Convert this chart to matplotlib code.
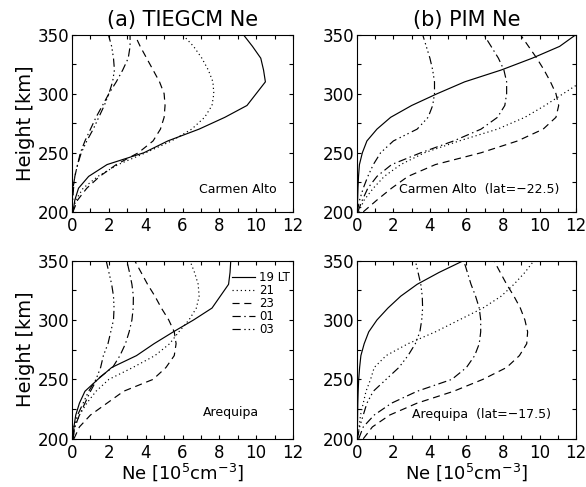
import numpy as np
import matplotlib
matplotlib.use("Agg")
import matplotlib.pyplot as plt
from matplotlib.ticker import MultipleLocator

plt.rcParams['font.family'] = ['DejaVu Sans']
plt.rcParams['mathtext.default'] = 'regular'

# height grid [km]
height = [200, 210, 220, 230, 240, 250, 260, 270, 280, 290, 300, 310, 320, 330, 340, 350]
lt_labels = ["19 LT", "21", "23", "01", "03"]

# (a) TIEGCM, Carmen Alto  (Ne in 1e5 cm^-3)
tie_ca_19 = [0.05, 0.15, 0.35, 0.9, 1.9, 3.9, 5.2, 6.9, 8.3, 9.5, 10.0, 10.5, 10.4, 10.25, 9.8, 9.3]
tie_ca_21 = [0.05, 0.2, 0.6, 1.4, 2.5, 4.0, 5.4, 6.5, 7.2, 7.6, 7.7, 7.65, 7.4, 7.05, 6.6, 6.0]
tie_ca_23 = [0.05, 0.3, 0.8, 1.5, 2.4, 3.6, 4.4, 4.8, 5.0, 5.05, 5.0, 4.75, 4.4, 4.05, 3.7, 3.4]
tie_ca_01 = [0.0, 0.03, 0.08, 0.15, 0.3, 0.45, 0.7, 1.0, 1.3, 1.65, 2.0, 2.4, 2.75, 3.05, 3.15, 3.15]
tie_ca_03 = [0.0, 0.02, 0.05, 0.15, 0.3, 0.5, 0.8, 1.15, 1.45, 1.75, 2.0, 2.2, 2.3, 2.25, 2.15, 1.97]

# (b) PIM, Carmen Alto
pim_ca_19 = [0.02, 0.04, 0.06, 0.09, 0.14, 0.3, 0.55, 1.1, 1.85, 3.0, 4.4, 5.9, 7.9, 9.6, 11.1, 12.0]
pim_ca_21 = [0.1, 0.4, 0.9, 1.5, 2.4, 3.7, 5.6, 7.7, 9.2, 10.3, 11.3, 12.3, np.nan, np.nan, np.nan, np.nan]
pim_ca_23 = [0.35, 1.1, 1.9, 2.8, 4.3, 6.8, 8.8, 10.2, 10.9, 11.05, 10.9, 10.6, 10.25, 9.85, 9.4, 8.95]
pim_ca_01 = [0.05, 0.3, 0.6, 1.1, 1.9, 3.5, 5.3, 6.8, 7.7, 8.1, 8.2, 8.2, 8.05, 7.75, 7.35, 6.95]
pim_ca_03 = [0.02, 0.15, 0.35, 0.6, 0.9, 1.3, 2.0, 3.3, 3.9, 4.15, 4.25, 4.25, 4.15, 4.0, 3.8, 3.6]

# (a) TIEGCM, Arequipa
tie_ar_19 = [0.05, 0.1, 0.2, 0.4, 0.7, 1.4, 2.15, 3.5, 4.45, 5.5, 6.6, 7.6, 8.05, 8.5, 8.58, 8.62]
tie_ar_21 = [0.05, 0.15, 0.4, 0.8, 1.3, 2.0, 3.3, 4.5, 5.3, 5.8, 6.35, 6.75, 6.9, 6.85, 6.65, 6.4]
tie_ar_23 = [0.1, 0.4, 1.0, 1.9, 2.8, 4.4, 5.1, 5.55, 5.65, 5.55, 5.25, 4.85, 4.5, 4.1, 3.75, 3.4]
tie_ar_01 = [0.05, 0.15, 0.4, 0.7, 1.0, 1.35, 2.2, 2.6, 2.9, 3.1, 3.25, 3.32, 3.33, 3.25, 3.12, 2.97]
tie_ar_03 = [0.03, 0.1, 0.3, 0.6, 0.9, 1.3, 1.55, 1.7, 1.95, 2.1, 2.25, 2.28, 2.25, 2.15, 2.0, 1.85]

# (b) PIM, Arequipa
pim_ar_19 = [0.02, 0.03, 0.04, 0.05, 0.07, 0.1, 0.15, 0.22, 0.4, 0.65, 1.1, 1.7, 2.4, 3.3, 4.5, 5.85]
pim_ar_21 = [0.05, 0.12, 0.2, 0.35, 0.5, 0.75, 0.95, 1.6, 2.8, 4.3, 5.6, 6.9, 7.9, 8.6, 9.2, 9.7]
pim_ar_23 = [0.35, 0.85, 1.8, 3.3, 5.3, 6.9, 8.2, 8.9, 9.3, 9.35, 9.2, 8.95, 8.6, 8.2, 7.85, 7.5]
pim_ar_01 = [0.1, 0.35, 0.95, 1.9, 3.3, 5.2, 6.0, 6.45, 6.7, 6.78, 6.78, 6.7, 6.5, 6.25, 6.05, 5.85]
pim_ar_03 = [0.03, 0.15, 0.35, 0.55, 0.9, 1.6, 2.3, 2.8, 3.2, 3.45, 3.55, 3.6, 3.58, 3.5, 3.35, 3.2]

styles = ['-', (0, (1, 2.5)), (0, (6, 4)), (0, (7, 3, 1.2, 3)), (0, (7, 3, 1.2, 2.5, 1.2, 2.5, 1.2, 3))]

panels = [
    ([tie_ca_19, tie_ca_21, tie_ca_23, tie_ca_01, tie_ca_03], "Carmen Alto"),
    ([pim_ca_19, pim_ca_21, pim_ca_23, pim_ca_01, pim_ca_03], "Carmen Alto  (lat=\u221222.5)"),
    ([tie_ar_19, tie_ar_21, tie_ar_23, tie_ar_01, tie_ar_03], "Arequipa"),
    ([pim_ar_19, pim_ar_21, pim_ar_23, pim_ar_01, pim_ar_03], "Arequipa  (lat=\u221217.5)"),
]

fig = plt.figure(figsize=(5.86, 4.87), dpi=100)
rects = [
    [0.123, 0.565, 0.377, 0.364],
    [0.609, 0.565, 0.374, 0.364],
    [0.123, 0.099, 0.377, 0.366],
    [0.609, 0.099, 0.374, 0.366],
]
text_pos = [(0.925, 0.125, 'right'), (0.925, 0.125, 'right'),
            (0.845, 0.145, 'right'), (0.885, 0.135, 'right')]

axes = []
for i, (curves, site) in enumerate(panels):
    ax = fig.add_axes(rects[i])
    for vals, ls, lab in zip(curves, styles, lt_labels):
        ax.plot(vals, height, color='k', lw=0.85, ls=ls, label=lab)
    ax.set_xlim(0, 12)
    ax.set_ylim(200, 350)
    ax.xaxis.set_major_locator(MultipleLocator(2))
    ax.xaxis.set_minor_locator(MultipleLocator(1))
    ax.yaxis.set_major_locator(MultipleLocator(50))
    ax.yaxis.set_minor_locator(MultipleLocator(25))
    ax.tick_params(which='both', direction='in', top=True, right=True,
                   length=3, width=0.8, labelsize=12)
    ax.tick_params(axis='x', pad=4)
    ax.tick_params(axis='y', pad=2)
    for sp in ax.spines.values():
        sp.set_linewidth(0.8)
    tx, ty, ha = text_pos[i]
    ax.text(tx, ty, site, transform=ax.transAxes, ha=ha, va='center', fontsize=9)
    axes.append(ax)

axes[0].set_title("(a) TIEGCM Ne", fontsize=15, pad=6)
axes[1].set_title("(b) PIM Ne", fontsize=15, pad=6)
axes[0].set_ylabel("Height [km]", fontsize=14, labelpad=2)
axes[2].set_ylabel("Height [km]", fontsize=14, labelpad=2)
axes[2].set_xlabel(r"Ne [10$^{5}$cm$^{-3}$]", fontsize=13, labelpad=-1)
axes[3].set_xlabel(r"Ne [10$^{5}$cm$^{-3}$]", fontsize=13, labelpad=-1)

axes[2].legend(loc='upper right', bbox_to_anchor=(1.035, 1.0), frameon=False,
               handlelength=1.9, handletextpad=0.4, labelspacing=0.0, borderpad=0.4,
               prop={'size': 8.5})

fig.savefig("out.png", dpi=100)
